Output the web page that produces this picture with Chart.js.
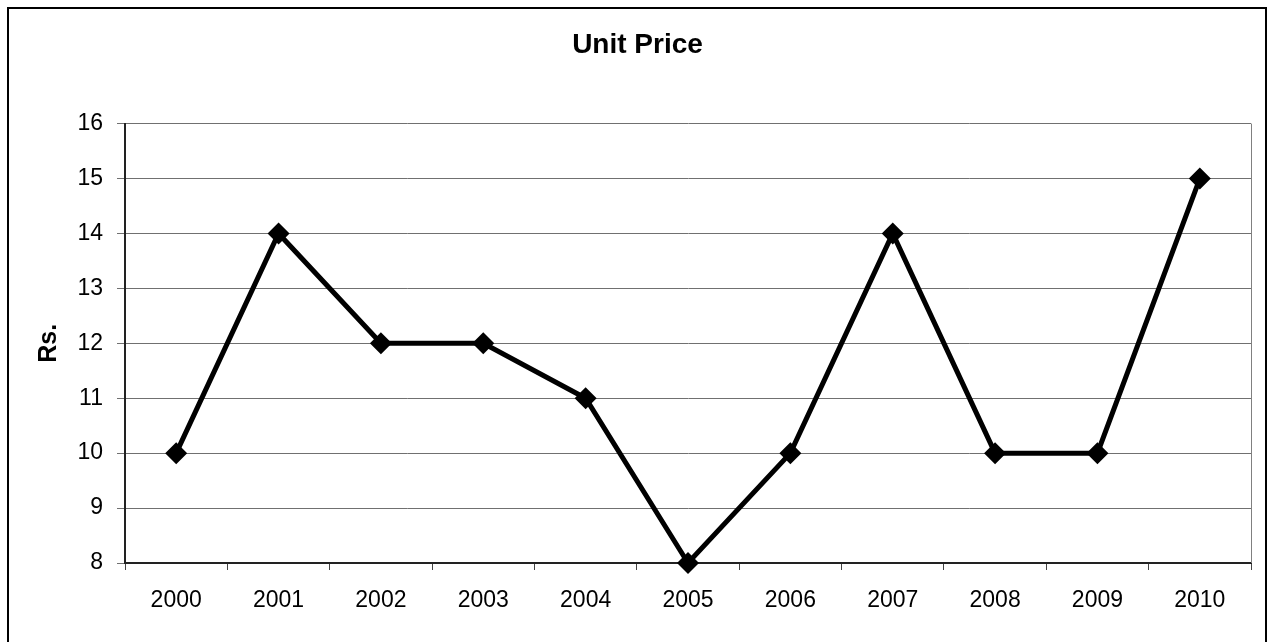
<!DOCTYPE html>
<html lang="en">
<head>
  <meta charset="UTF-8">
  <title>Unit Price</title>
  <script src="https://cdn.jsdelivr.net/npm/chart.js"></script>
  <style>
    html, body { margin: 0; padding: 0; background: #fff; }
    canvas { display: block; }
  </style>
</head>
<body>
  <canvas id="priceChart" width="1271" height="642"></canvas>

<script>
  // data
  const years  = ['2000','2001','2002','2003','2004','2005','2006','2007','2008','2009','2010'];
  const prices = [10, 14, 12, 12, 11, 8, 10, 14, 10, 10, 15];
  const yMin = 8, yMax = 16, yStep = 1;

  const fontFamily = "'Liberation Sans', Arial, sans-serif";

  // frame round the whole chart + grey right edge of plot area
  const framePlugin = {
    id: 'frame',
    beforeDraw(chart) {
      const ctx = chart.ctx;
      ctx.save();
      ctx.fillStyle = '#fff';
      ctx.fillRect(0, 0, chart.width, chart.height);
      ctx.strokeStyle = '#000';
      ctx.lineWidth = 2;
      ctx.beginPath();
      ctx.moveTo(8, chart.height + 5);
      ctx.lineTo(8, 8);
      ctx.lineTo(1266, 8);
      ctx.lineTo(1266, chart.height + 5);
      ctx.stroke();
      ctx.restore();
    },
    beforeDatasetsDraw(chart) {
      const { ctx, chartArea } = chart;
      ctx.save();
      ctx.strokeStyle = '#808080';
      ctx.lineWidth = 1;
      ctx.beginPath();
      ctx.moveTo(Math.round(chartArea.right) + 0.5, chartArea.top);
      ctx.lineTo(Math.round(chartArea.right) + 0.5, chartArea.bottom);
      ctx.stroke();
      ctx.restore();
    }
  };

  new Chart(document.getElementById('priceChart'), {
    type: 'line',
    data: {
      labels: years,
      datasets: [{
        label: 'Unit Price',
        data: prices,
        borderColor: '#000',
        borderWidth: 5,
        tension: 0,
        pointStyle: 'rectRot',
        pointRadius: 11,
        pointHoverRadius: 11,
        pointBackgroundColor: '#000',
        pointBorderColor: '#000',
        pointBorderWidth: 0,
        clip: false
      }]
    },
    options: {
      responsive: false,
      animation: false,
      devicePixelRatio: 1,
      // title is centred on the outer frame, not the plot
      layout: { padding: { left: 12, right: 8, top: 0, bottom: 0 } },
      plugins: {
        legend: { display: false },
        tooltip: { enabled: false },
        title: {
          display: true,
          text: 'Unit Price',
          color: '#000',
          font: { family: fontFamily, size: 28, weight: 'bold' },
          padding: { top: 28, bottom: 62 }
        }
      },
      scales: {
        x: {
          offset: true,
          grid: {
            offset: true,
            drawOnChartArea: false,
            drawTicks: true,
            tickLength: 7,
            color: '#444'
          },
          border: { color: '#222', width: 2 },
          ticks: {
            color: '#000',
            padding: 17,
            font: { family: fontFamily, size: 23 },
            maxRotation: 0
          },
          afterFit(scale) { scale.height = 79; }
        },
        y: {
          min: yMin,
          max: yMax,
          grid: {
            color: '#707070',
            lineWidth: 1,
            tickLength: 8
          },
          border: { color: '#222', width: 2 },
          ticks: {
            stepSize: yStep,
            color: '#000',
            padding: 14,
            font: { family: fontFamily, size: 23 }
          },
          title: {
            display: true,
            text: 'Rs.',
            color: '#000',
            font: { family: fontFamily, size: 25, weight: 'bold' },
            padding: { top: 22, bottom: 0 }
          },
          afterFit(scale) { scale.width = 113; }
        },
        // empty spacer on the right so the plot ends where the reference does
        spacer: {
          type: 'linear',
          position: 'right',
          display: true,
          grid: { display: false },
          border: { display: false },
          ticks: { display: false },
          afterFit(scale) { scale.width = 12; }
        }
      }
    },
    plugins: [framePlugin]
  });
</script>
</body>
</html>
